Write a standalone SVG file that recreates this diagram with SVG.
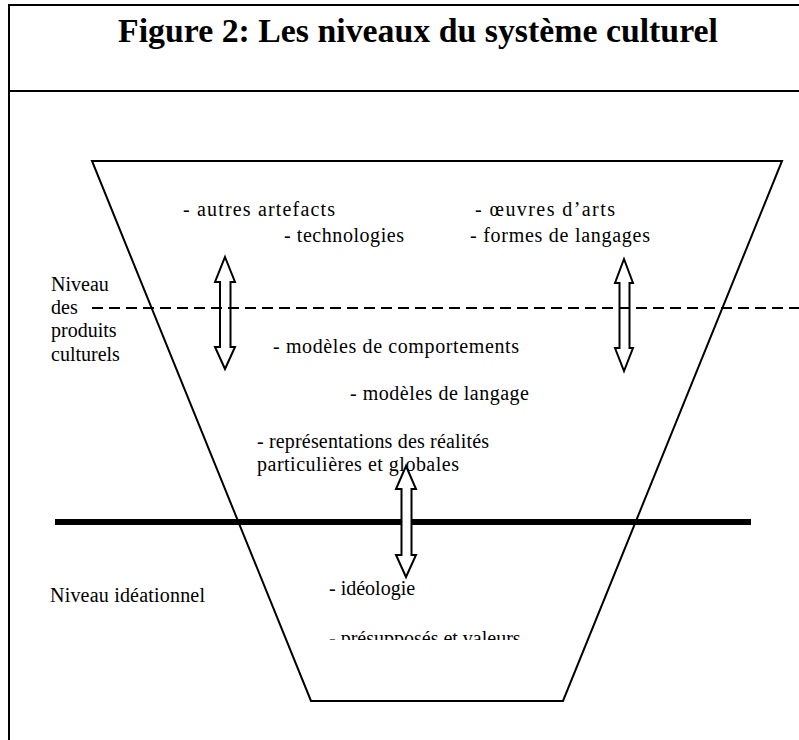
<svg xmlns="http://www.w3.org/2000/svg" width="799" height="740" viewBox="0 0 799 740">
<defs>
<style>
.t{font-family:"Liberation Serif","Times New Roman",serif;font-size:20px;fill:#000}
.title{font-family:"Liberation Serif","Times New Roman",serif;font-size:33px;font-weight:bold;fill:#000}
.frame{stroke:#000;stroke-width:2;fill:none}
.arrow{fill:#fff;stroke:#000;stroke-width:2;stroke-linejoin:miter}
</style>
<clipPath id="clipText"><rect x="0" y="600" width="799" height="40"/></clipPath>
</defs>
<rect width="799" height="740" fill="#fff"/>
<g id="frame">
<line class="frame" x1="9" y1="4" x2="9" y2="740"/>
<line class="frame" x1="8" y1="5" x2="799" y2="5"/>
<line class="frame" x1="8" y1="91" x2="799" y2="91"/>
</g>
<g id="title"><text class="title" x="118" y="42" textLength="600" lengthAdjust="spacingAndGlyphs">Figure 2: Les niveaux du système culturel</text></g>
<g id="funnel"><polygon points="92,161 782,161 563,701 311,701" fill="none" stroke="#000" stroke-width="2"/></g>
<g id="labels">
<text class="t" x="183" y="216" textLength="152" lengthAdjust="spacing">- autres artefacts</text>
<text class="t" x="284" y="242" textLength="120" lengthAdjust="spacing">- technologies</text>
<text class="t" x="475" y="216" textLength="140" lengthAdjust="spacing">- œuvres d’arts</text>
<text class="t" x="470" y="242" textLength="180" lengthAdjust="spacing">- formes de langages</text>
<text class="t" x="51" y="291">Niveau</text>
<text class="t" x="51" y="314">des</text>
<text class="t" x="51" y="337">produits</text>
<text class="t" x="51" y="361">culturels</text>
<text class="t" x="273" y="353" textLength="246" lengthAdjust="spacing">- modèles de comportements</text>
<text class="t" x="350" y="400" textLength="179" lengthAdjust="spacing">- modèles de langage</text>
<text class="t" x="257" y="448" textLength="232" lengthAdjust="spacing">- représentations des réalités</text>
<text class="t" x="257" y="471" textLength="202" lengthAdjust="spacing">particulières et globales</text>
<text class="t" x="50" y="602" textLength="155" lengthAdjust="spacing">Niveau idéationnel</text>
<text class="t" x="329" y="595">- idéologie</text>
<text class="t" x="329" y="645" clip-path="url(#clipText)">- présupposés et valeurs</text>
</g>
<g id="connectors">
<g id="arrow1"><polygon class="arrow" points="225,257 235,282 230.5,282 230.5,347 235,347 225,369 215,347 220,347 220,282 215,282"/></g>
<g id="arrow2"><polygon class="arrow" points="624,259 633,283 629.5,283 629.5,348 633,348 624,371 615,348 619.5,348 619.5,283 615,283"/></g>
<line x1="92" y1="308" x2="799" y2="308" stroke="#000" stroke-width="2" stroke-dasharray="11,6"/>
<line x1="55" y1="522" x2="751" y2="522" stroke="#000" stroke-width="6"/>
<g id="arrow3"><polygon class="arrow" points="406,466 416,489 411.5,489 411.5,555 416,555 406,577 396,555 401.5,555 401.5,489 396,489"/></g>
</g>
</svg>
